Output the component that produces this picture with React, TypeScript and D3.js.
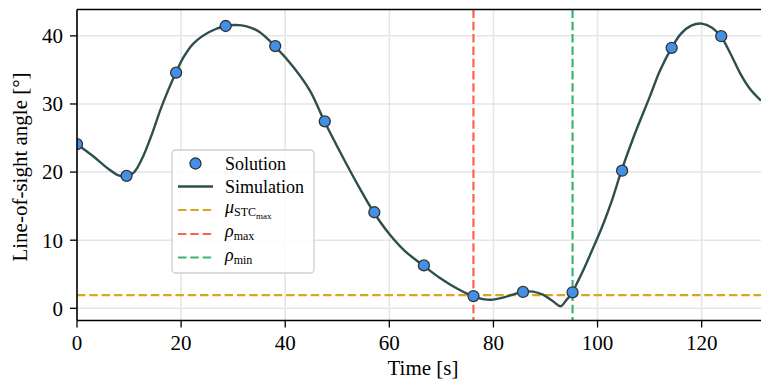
import React from 'react';
import * as d3 from 'd3';

// Solution points (time [s], angle [deg])
const solTime = [0, 9.52, 19.04, 28.56, 38.08, 47.6, 57.12, 66.64, 76.16, 85.68, 95.2, 104.72, 114.24, 123.76];
const solAngle = [24.1, 19.45, 34.6, 41.45, 38.5, 27.45, 14.1, 6.3, 1.8, 2.4, 2.35, 20.2, 38.25, 39.95];

// Simulation curve
const simTime = [0, 3, 6, 8, 9.5, 11, 12.7, 14.5, 16, 17.5, 19, 20.5, 22.4, 25.5, 28.5, 30.5, 32.6, 35, 38, 41.6, 44.8, 47.5, 51.2, 54.4, 57, 60, 63, 66.5, 69.8, 73, 76, 78, 79.5, 82, 85.5, 87.6, 89.5, 91.5, 92.9, 94, 95.2, 96, 97.5, 99, 101, 102.7, 104.6, 107, 110, 112, 114.2, 116, 118, 120, 122, 123.7, 125.4, 127.4, 129.3, 131.4];
const simAngle = [24.1, 22.4, 20.5, 19.5, 19.35, 20.0, 22.3, 25.8, 29.1, 32.0, 34.6, 36.9, 38.9, 40.6, 41.45, 41.6, 41.4, 40.6, 38.5, 35.4, 31.9, 27.5, 22.0, 17.5, 14.1, 10.9, 8.4, 6.3, 4.4, 2.9, 1.8, 1.35, 1.25, 1.6, 2.4, 2.45, 2.0, 1.0, 0.3, 1.2, 2.35, 3.6, 6.0, 8.6, 12.2, 15.7, 20.2, 25.3, 31.0, 34.9, 38.2, 40.3, 41.5, 41.8, 41.2, 39.9, 37.6, 34.5, 32.2, 30.5];

const muStcMax = 1.95;
const rhoMax = 76.16;
const rhoMin = 95.2;

const xTicks = [0, 20, 40, 60, 80, 100, 120];
const yTicks = [0, 10, 20, 30, 40];

const FONT = '"Liberation Serif", "Times New Roman", serif';
const C_SOL = '#4391e6';
const C_SIM = '#2f4f4f';
const C_MU = '#daa520';
const C_RMAX = '#ff6347';
const C_RMIN = '#3cb371';
const DASH = '8.5,3.8';

const App = () => {
  const W = 761, H = 383;
  const left = 77, right = 761, top = 9.5, bottom = 320.5;

  const x = d3.scaleLinear().domain([0, 131.4]).range([left, right]);
  const y = d3.scaleLinear().domain([-1.79, 43.87]).range([bottom, top]);

  const sim = simTime.map((t, i) => [t, simAngle[i]] as [number, number]);
  const line = d3.line<[number, number]>()
    .x(d => x(d[0]))
    .y(d => y(d[1]))
    .curve(d3.curveCatmullRom.alpha(0.5));

  // legend layout
  const lg = { x: 172, y: 150, w: 142, h: 123 };
  const rowY = [163.5, 186.5, 210, 234, 257.5];
  const hx0 = 178, hx1 = 213, tx = 225;

  return (
    <svg width={W} height={H} style={{ position: 'absolute', left: 0, top: 0, background: '#fff' }}
         fontFamily={FONT}>
      <defs>
        <clipPath id="plot">
          <rect x={left} y={top} width={right - left} height={bottom - top} />
        </clipPath>
      </defs>

      {/* grid */}
      {xTicks.map(t => (
        <line key={'gx' + t} x1={x(t)} x2={x(t)} y1={top} y2={bottom} stroke="#e5e5e5" strokeWidth={1.5} />
      ))}
      {yTicks.map(t => (
        <line key={'gy' + t} x1={left} x2={right} y1={y(t)} y2={y(t)} stroke="#e5e5e5" strokeWidth={1.5} />
      ))}

      <g clipPath="url(#plot)">
        <line x1={left} x2={right} y1={y(muStcMax)} y2={y(muStcMax)} stroke={C_MU} strokeWidth={2.2} strokeDasharray={DASH} />
        <line x1={x(rhoMax)} x2={x(rhoMax)} y1={top} y2={bottom} stroke={C_RMAX} strokeWidth={2.2} strokeDasharray={DASH} />
        <line x1={x(rhoMin)} x2={x(rhoMin)} y1={top} y2={bottom} stroke={C_RMIN} strokeWidth={2.2} strokeDasharray={DASH} />
        <path d={line(sim) || ''} fill="none" stroke={C_SIM} strokeWidth={2.4} />
        {solTime.map((t, i) => (
          <circle key={'s' + i} cx={x(t)} cy={y(solAngle[i])} r={5.5} fill={C_SOL} stroke="#333" strokeWidth={1.3} />
        ))}
      </g>

      {/* spines */}
      <line x1={left} x2={left} y1={top} y2={bottom} stroke="#000" strokeWidth={1.6} />
      <line x1={left} x2={right} y1={bottom} y2={bottom} stroke="#000" strokeWidth={1.6} />
      <line x1={left} x2={right} y1={top} y2={top} stroke="#000" strokeWidth={1.6} />

      {/* x axis */}
      {xTicks.map(t => (
        <g key={'xt' + t}>
          <line x1={x(t)} x2={x(t)} y1={bottom} y2={bottom + 7} stroke="#000" strokeWidth={1.3} />
          <text x={x(t)} y={350} textAnchor="middle" fontSize={21}>{t}</text>
        </g>
      ))}
      {/* y axis */}
      {yTicks.map(t => (
        <g key={'yt' + t}>
          <line x1={left - 7} x2={left} y1={y(t)} y2={y(t)} stroke="#000" strokeWidth={1.3} />
          <text x={63} y={y(t)} dy="0.35em" textAnchor="end" fontSize={21}>{t}</text>
        </g>
      ))}

      <text x={423} y={375} textAnchor="middle" fontSize={21}>Time [s]</text>
      <text transform={`translate(27,167) rotate(-90)`} textAnchor="middle" fontSize={21}>Line-of-sight angle [°]</text>

      {/* legend */}
      <rect x={lg.x} y={lg.y} width={lg.w} height={lg.h} rx={3.5} fill="#fff" fillOpacity={0.85} stroke="#d0d0d0" strokeWidth={1.3} />
      <circle cx={(hx0 + hx1) / 2} cy={rowY[0]} r={5.5} fill={C_SOL} stroke="#333" strokeWidth={1.3} />
      <line x1={hx0} x2={hx1} y1={rowY[1]} y2={rowY[1]} stroke={C_SIM} strokeWidth={2.4} />
      <line x1={hx0} x2={hx1} y1={rowY[2]} y2={rowY[2]} stroke={C_MU} strokeWidth={2.2} strokeDasharray={DASH} />
      <line x1={hx0} x2={hx1} y1={rowY[3]} y2={rowY[3]} stroke={C_RMAX} strokeWidth={2.2} strokeDasharray={DASH} />
      <line x1={hx0} x2={hx1} y1={rowY[4]} y2={rowY[4]} stroke={C_RMIN} strokeWidth={2.2} strokeDasharray={DASH} />

      <text x={tx} y={rowY[0]} dy="0.35em" fontSize={18}>Solution</text>
      <text x={tx} y={rowY[1]} dy="0.35em" fontSize={18}>Simulation</text>
      <text x={tx} y={rowY[2] + 3} fontSize={18}>
        <tspan fontStyle="italic">μ</tspan>
        <tspan fontSize={12} dy={3}>STC</tspan>
        <tspan fontSize={9} dy={3}>max</tspan>
      </text>
      <text x={tx} y={rowY[3] + 3} fontSize={18}>
        <tspan fontStyle="italic">ρ</tspan>
        <tspan fontSize={12} dy={3}>max</tspan>
      </text>
      <text x={tx} y={rowY[4] + 3} fontSize={18}>
        <tspan fontStyle="italic">ρ</tspan>
        <tspan fontSize={12} dy={3}>min</tspan>
      </text>
    </svg>
  );
};

export default App;
